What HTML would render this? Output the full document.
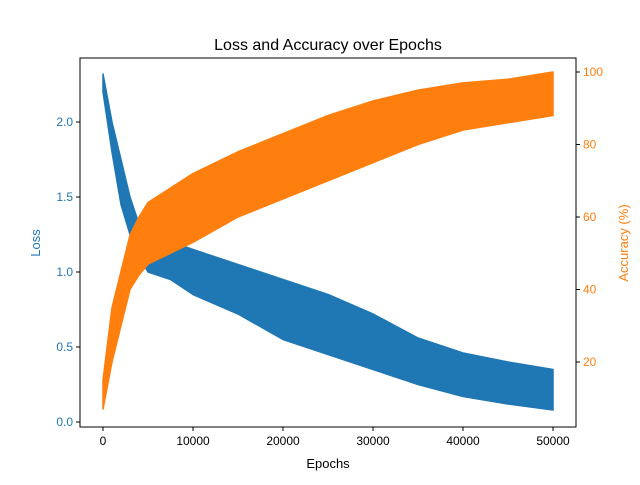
<!DOCTYPE html>
<html><head><meta charset="utf-8"><style>
body{margin:0;background:#fff}
svg{font-family:"Liberation Sans","DejaVu Sans",sans-serif}
</style></head><body>
<svg id="chart" width="640" height="480" viewBox="0 0 640 480" xmlns="http://www.w3.org/2000/svg">
<rect width="640" height="480" fill="#fff"/>
<g id="plot"></g>
<text x="328" y="50" font-size="16" text-anchor="middle">Loss and Accuracy over Epochs</text>
<text x="328" y="468" font-size="13" text-anchor="middle">Epochs</text>
<text transform="translate(40,243) rotate(-90)" font-size="13" text-anchor="middle" fill="#1f77b4">Loss</text>
<text transform="translate(628,243) rotate(-90)" font-size="13" text-anchor="middle" fill="#ff7f0e">Accuracy (%)</text>
</svg>
<script>
const epochs=[0,1000,2000,3000,4000,5000,7500,10000,15000,20000,25000,30000,35000,40000,45000,50000];
const lossHigh=[2.32,2.0,1.75,1.5,1.32,1.28,1.2,1.15,1.05,0.95,0.85,0.72,0.56,0.46,0.4,0.35];
const lossLow=[2.2,1.8,1.45,1.25,1.1,1.0,0.95,0.85,0.72,0.55,0.45,0.35,0.25,0.17,0.12,0.08];
const accHigh=[15,35,45,55,60,64,68,72,78,83,88,92,95,97,98,100];
const accLow=[7,20,30,40,44,47,50,53,60,65,70,75,80,84,86,88];
const xTicks=[0,10000,20000,30000,40000,50000];
const lossTicks=[0.0,0.5,1.0,1.5,2.0];
const accTicks=[20,40,60,80,100];

const X0=80,X1=576,Y0=58,Y1=427;
const xs=v=>103+v*450/50000;
const yl=v=>422-v*150;
const ya=v=>362-(v-20)*3.625;
const NS="http://www.w3.org/2000/svg";
const g=document.getElementById('plot');
function mk(t,a){const e=document.createElementNS(NS,t);for(const k in a)e.setAttribute(k,a[k]);g.appendChild(e);return e;}
function band(hi,lo,yf,color,name){
  let pts=[];
  epochs.forEach((e,i)=>pts.push(xs(e)+','+yf(hi[i])));
  for(let i=epochs.length-1;i>=0;i--)pts.push(xs(epochs[i])+','+yf(lo[i]));
  const p=mk('polygon',{points:pts.join(' '),fill:color,stroke:color,'stroke-width':1.5,'stroke-linejoin':'round'});
  
  
}
band(lossHigh,lossLow,yl,'#1f77b4','loss-series');
band(accHigh,accLow,ya,'#ff7f0e','accuracy-series');
const fr=mk('rect',{x:X0,y:Y0,width:X1-X0,height:Y1-Y0,fill:'none',stroke:'#000','stroke-width':1});


xTicks.forEach(v=>{
  mk('line',{x1:xs(v),x2:xs(v),y1:Y1,y2:Y1+4,stroke:'#000'});
  const t=mk('text',{x:xs(v),y:Y1+18,'font-size':12,'text-anchor':'middle'});t.textContent=v;
  
  
});
lossTicks.forEach(v=>{
  mk('line',{x1:X0-4,x2:X0,y1:yl(v),y2:yl(v),stroke:'#000'});
  const t=mk('text',{x:X0-7,y:yl(v)+4,'font-size':12,'text-anchor':'end',fill:'#1f77b4'});t.textContent=v.toFixed(1);
  
  
});
accTicks.forEach(v=>{
  mk('line',{x1:X1,x2:X1+4,y1:ya(v),y2:ya(v),stroke:'#000'});
  const t=mk('text',{x:X1+7,y:ya(v)+4,'font-size':12,'text-anchor':'start',fill:'#ff7f0e'});t.textContent=v;
  
  
});
</script>
</body></html>
